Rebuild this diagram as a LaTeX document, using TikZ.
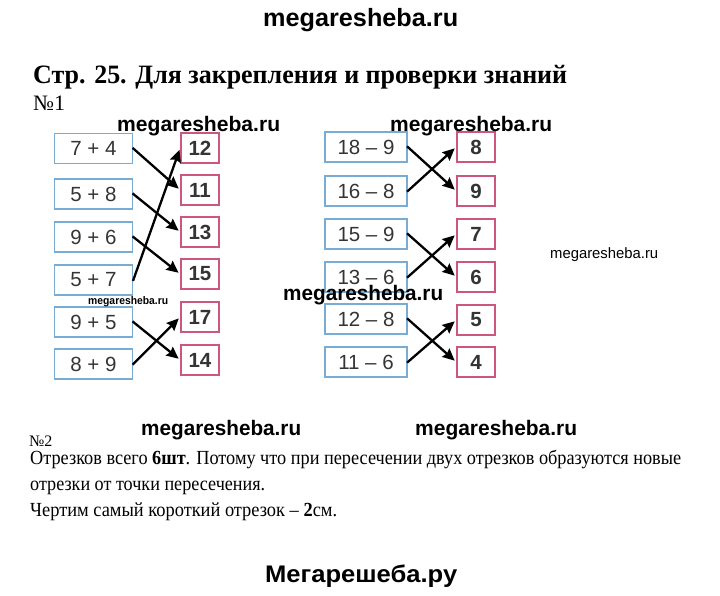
\documentclass[tikz,border=0pt]{standalone}
\usepackage{fontspec}
\setmainfont{Liberation Serif}
\setsansfont{Liberation Sans}
\usetikzlibrary{arrows.meta}
\newcommand\fitw[2]{\resizebox{#1}{\height}{#2}}
\definecolor{boxblue}{RGB}{120,172,212}
\definecolor{boxpink}{RGB}{204,86,126}
\definecolor{textgray}{RGB}{52,52,52}
\begin{document}
\begin{tikzpicture}[x=1pt,y=-1pt,
  expr/.style={draw=boxblue, line width=1.6pt, fill=white, minimum width=78pt, minimum height=30pt, inner sep=0pt, font=\sffamily\fontsize{20.5}{20.5}\selectfont, text=textgray},
  ans/.style={draw=boxpink, line width=1.6pt, fill=white, minimum width=38pt, minimum height=30pt, inner sep=0pt, font=\sffamily\bfseries\fontsize{20.5}{20.5}\selectfont, text=textgray},
  link/.style={line width=2.3pt, -{Stealth[length=12pt,width=11pt,inset=1.5pt]}, shorten >=2pt, shorten <=-1pt},
  wm/.style={font=\sffamily\bfseries, anchor=base west, inner sep=0pt},
  txt/.style={anchor=base west, inner sep=0pt}]
\useasboundingbox (0,0) rectangle (720,595);
\fill[white] (0,0) rectangle (720,595);

% watermarks
\node[wm] (w0) at (263,26) {\fitw{195pt}{\fontsize{25}{25}\selectfont megaresheba.ru}};
\node[wm] (w7) at (265,582) {\fitw{192pt}{\fontsize{24}{24}\selectfont Мегарешеба.ру}};

% title
\node[txt] (title) at (33,83) {\fitw{534pt}{\fontsize{26.5}{26.5}\selectfont\bfseries Стр. 25. Для закрепления и проверки знаний}};
\node[txt] (n1) at (33,110) {\fontsize{22}{22}\selectfont №1};

% left group
\node[expr] (a1) at (93.5,148.5) {7 + 4};
\node[expr] (a2) at (93.5,194) {5 + 8};
\node[expr] (a3) at (93.5,237) {9 + 6};
\node[expr] (a4) at (93.5,280) {5 + 7};
\node[expr] (a5) at (93.5,322) {9 + 5};
\node[expr] (a6) at (93.5,364) {8 + 9};
\node[ans] (b1) at (200,148) {12};
\node[ans] (b2) at (200,190) {11};
\node[ans] (b3) at (200,232) {13};
\node[ans] (b4) at (200,274) {15};
\node[ans] (b5) at (200,317) {17};
\node[ans] (b6) at (200,360) {14};
\draw[link] (a1.east) -- (b2.west);
\draw[link] (a2.east) -- (b3.west);
\draw[link] (a3.east) -- (b4.west);
\draw[link] (a4.east) -- (b1.west);
\draw[link] (a5.east) -- (b6.west);
\draw[link] (a6.east) -- (b5.west);

% right group
\node[expr, minimum width=82pt] (c1) at (366,147) {18 – 9};
\node[expr, minimum width=82pt] (c2) at (366,191) {16 – 8};
\node[expr, minimum width=82pt] (c3) at (366,234) {15 – 9};
\node[expr, minimum width=82pt] (c4) at (366,277) {13 – 6};
\node[expr, minimum width=82pt] (c5) at (366,319) {12 – 8};
\node[expr, minimum width=82pt] (c6) at (366,362) {11 – 6};
\node[ans] (d1) at (476,147) {8};
\node[ans] (d2) at (476,191) {9};
\node[ans] (d3) at (476,234) {7};
\node[ans] (d4) at (476,277) {6};
\node[ans] (d5) at (476,320) {5};
\node[ans] (d6) at (476,362) {4};
\draw[link] (c1.east) -- (d2.west);
\draw[link] (c2.east) -- (d1.west);
\draw[link] (c3.east) -- (d4.west);
\draw[link] (c4.east) -- (d3.west);
\draw[link] (c5.east) -- (d6.west);
\draw[link] (c6.east) -- (d5.west);

% inner watermarks
\node[wm] (w1) at (117,131) {\fitw{163pt}{\fontsize{21}{21}\selectfont megaresheba.ru}};
\node[wm] (w2) at (390,131) {\fitw{162pt}{\fontsize{21}{21}\selectfont megaresheba.ru}};
\node[wm] (w3) at (88,304) {\fitw{80pt}{\fontsize{11}{11}\selectfont megaresheba.ru}};
\node[wm] (w4) at (283,300) {\fitw{160pt}{\fontsize{21}{21}\selectfont megaresheba.ru}};
\node[txt, font=\sffamily] (w5) at (550,258) {\fitw{108pt}{\fontsize{15}{15}\selectfont megaresheba.ru}};
\node[wm] (w6a) at (141,435) {\fitw{160pt}{\fontsize{21}{21}\selectfont megaresheba.ru}};
\node[wm] (w6b) at (415,435) {\fitw{162pt}{\fontsize{21}{21}\selectfont megaresheba.ru}};

% task 2
\node[txt] (n2) at (29,446) {\fontsize{16}{16}\selectfont №2};
\node[txt] (l1) at (30,464) {\fitw{651pt}{\fontsize{20}{20}\selectfont Отрезков всего \textbf{6шт}. Потому что при пересечении двух отрезков образуются новые}};
\node[txt] (l2) at (30,490) {\fitw{235pt}{\fontsize{20}{20}\selectfont отрезки от точки пересечения.}};
\node[txt] (l3) at (30,516) {\fitw{307pt}{\fontsize{20}{20}\selectfont Чертим самый короткий отрезок – \textbf{2}см.}};
\end{tikzpicture}
\end{document}
